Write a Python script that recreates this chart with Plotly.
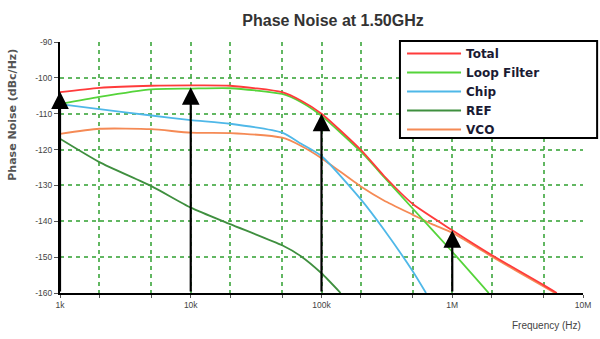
import math
import plotly.graph_objects as go

# ---------------- data ----------------
freq_total = [1e3, 2e3, 5e3, 1e4, 2e4, 5e4, 7e4, 1e5, 2e5, 3e5, 5e5, 1e6, 2e6, 5e6, 6.3e6]
pn_total = [-104.0, -102.8, -102.2, -102.1, -102.2, -104.0, -106.4, -110.0, -120.1, -127.3, -135.2, -142.5, -149.4, -157.8, -160.0]

freq_loop = [1e3, 2e3, 5e3, 1e4, 2e4, 5e4, 7e4, 1e5, 2e5, 3e5, 5e5, 1e6, 1.9e6]
pn_loop = [-107.3, -105.3, -103.2, -103.0, -102.9, -104.5, -106.8, -110.6, -120.6, -127.6, -136.5, -148.5, -160.0]

freq_chip = [1e3, 2e3, 5e3, 1e4, 2e4, 5e4, 7e4, 1e5, 2e5, 3e5, 5e5, 6.3e5]
pn_chip = [-107.3, -108.7, -110.5, -111.8, -112.8, -115.3, -118.4, -121.8, -133.9, -142.3, -154.0, -160.0]

freq_ref = [1e3, 2e3, 5e3, 1e4, 2e4, 5e4, 7e4, 1e5, 1.4e5]
pn_ref = [-117.0, -123.5, -130.2, -136.2, -140.8, -146.7, -149.8, -154.5, -160.0]

freq_vco = [1e3, 2e3, 5e3, 1e4, 2e4, 5e4, 7e4, 1e5, 2e5, 3e5, 5e5, 7e5, 1e6, 2e6, 5e6, 6.1e6]
pn_vco = [-115.6, -114.2, -114.3, -115.3, -115.4, -116.7, -119.0, -122.4, -130.3, -134.2, -138.2, -140.8, -143.2, -149.8, -158.2, -160.0]

arrow_freqs = [1e3, 1e4, 1e5, 1e6]
arrow_levels = [-103.8, -102.6, -110.0, -142.5]
arrow_base = -160

y_ticks = [-90, -100, -110, -120, -130, -140, -150, -160]
x_grid = [1e3, 2e3, 5e3, 1e4, 2e4, 5e4, 1e5, 2e5, 5e5, 1e6, 2e6, 5e6, 1e7]
x_labels = ["1k", "", "", "10k", "", "", "100k", "", "", "1M", "", "", "10M"]

# ---------------- figure ----------------
series = [
    ("VCO", freq_vco, pn_vco, "#f58a55"),
    ("REF", freq_ref, pn_ref, "#3f8f3f"),
    ("Chip", freq_chip, pn_chip, "#4fb8e8"),
    ("Loop Filter", freq_loop, pn_loop, "#55d43a"),
    ("Total", freq_total, pn_total, "#ff3b3b"),
]

fig = go.Figure()
for name, fx, fy, col in series:
    fig.add_trace(go.Scatter(x=fx, y=fy, name=name, mode="lines",
                             line=dict(color=col, width=1.8, shape="spline", smoothing=0.6)))

grid_col = "rgba(70,170,70,0.85)"
tick_font = dict(family="Liberation Sans", size=8.5, color="#444")
fig.update_xaxes(type="log", range=[3, 7], tickvals=x_grid, ticktext=x_labels,
                 showgrid=True, gridcolor=grid_col, gridwidth=2, griddash="4px,4px",
                 showline=True, linecolor="black", linewidth=2, zeroline=False,
                 ticks="outside", ticklen=3, tickcolor="#555", tickfont=tick_font,
                 automargin=False)
fig.update_yaxes(range=[-160, -90], tickvals=y_ticks, ticktext=[str(v) for v in y_ticks],
                 showgrid=True, gridcolor=grid_col, gridwidth=2, griddash="4px,4px",
                 showline=True, linecolor="black", linewidth=2, zeroline=False,
                 ticks="outside", ticklen=4, tickcolor="#555", tickfont=tick_font,
                 automargin=False)

annotations = []
for f, lv in zip(arrow_freqs, arrow_levels):
    annotations.append(dict(x=math.log10(f), y=lv, ax=math.log10(f), ay=arrow_base,
                            xref="x", yref="y", axref="x", ayref="y", text="",
                            showarrow=True, arrowhead=2, arrowsize=1.6, arrowwidth=2.2,
                            arrowcolor="black", standoff=0))
annotations.append(dict(text="Phase Noise (dBc/Hz)", textangle=-90, xref="paper", yref="paper",
                        x=-0.09, y=0.71, xanchor="center", yanchor="middle", showarrow=False,
                        font=dict(family="DejaVu Sans", size=11, color="#555", weight="bold")))
annotations.append(dict(text="Frequency (Hz)", xref="paper", yref="paper", x=1.0, y=-0.131,
                        xanchor="right", yanchor="middle", showarrow=False,
                        font=dict(family="Liberation Sans", size=10, color="#444")))

fig.update_layout(
    width=600, height=339,
    margin=dict(l=60, r=17, t=42, b=46, autoexpand=False),
    plot_bgcolor="white", paper_bgcolor="white",
    title=dict(text="Phase Noise at 1.50GHz", x=0.555, xanchor="center",
               y=1 - 20 / 339, yanchor="middle",
               font=dict(family="Liberation Sans", size=16, color="#333", weight="bold")),
    showlegend=True,
    legend=dict(x=0.654, y=1.012, xanchor="left", yanchor="top", traceorder="reversed",
                bgcolor="rgba(0,0,0,0)", borderwidth=0, itemwidth=54, tracegroupgap=0,
                font=dict(family="DejaVu Sans", size=12, color="#1a1a33", weight="bold")),
    shapes=[dict(type="rect", xref="paper", yref="paper", x0=0.650, x1=1.027, y0=0.6175, y1=1.004,
                 line=dict(color="black", width=2), fillcolor="white", layer="above")],
    annotations=annotations,
)

fig.write_html("out.html", config={"displayModeBar": False},
               post_script="document.body.style.margin='0px';")
